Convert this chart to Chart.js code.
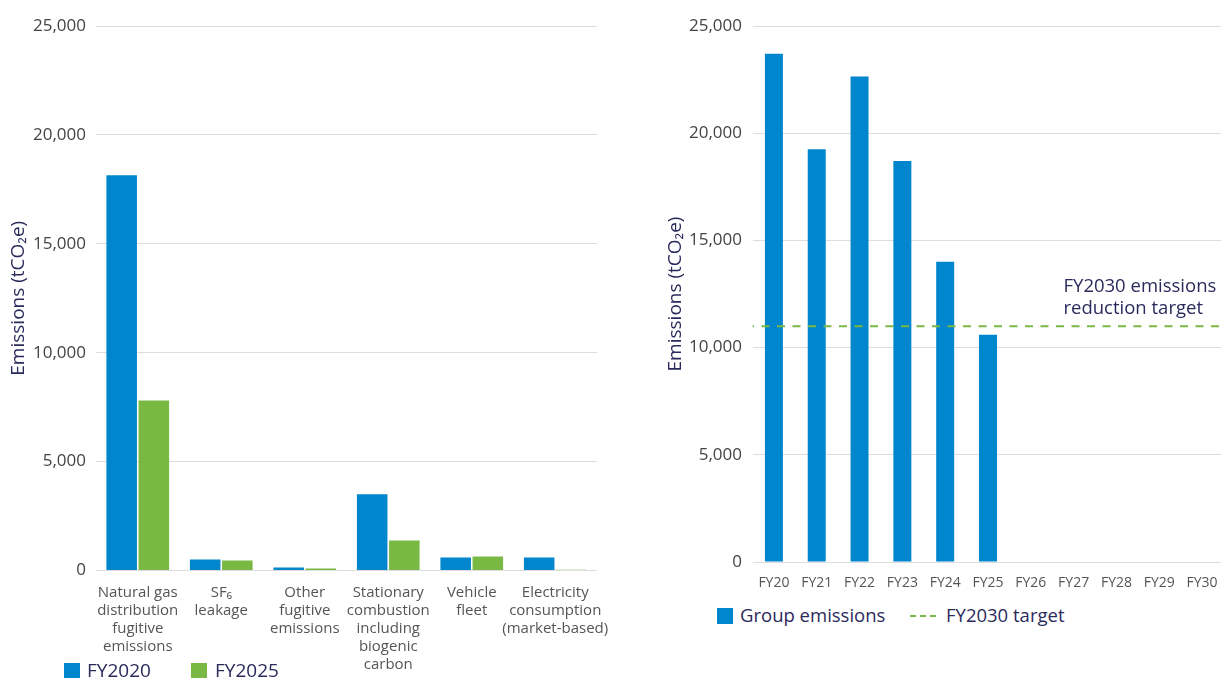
<!DOCTYPE html>
<html>
<head>
<meta charset="utf-8">
<script src="https://cdn.jsdelivr.net/npm/chart.js@4.4.1/dist/chart.umd.min.js"></script>
<style>
  html, body { margin: 0; padding: 0; background: #fff; }
  body { width: 1221px; height: 678px; overflow: hidden; position: relative; font-family: 'Open Sans', sans-serif; }
  .wrap { position: absolute; top: 0; }
  #left { left: 0; width: 625px; height: 700px; }
  #right { left: 660px; width: 580px; height: 600px; }
  .legend { position: absolute; color: #2b2a5c; white-space: nowrap; }
  .legend span { position: absolute; }
  .box { width: 16px; height: 16px; }
  .dash { width: 26px; height: 0; border-top: 2px dashed #7ab648; }
</style>
</head>
<body>
<div class="wrap" id="left"><canvas id="sourcesChart"></canvas></div>
<div class="wrap" id="right"><canvas id="trendChart"></canvas></div>

<!-- legendes -->
<div class="legend" style="left:0;top:0;font-size:19px;">
  <span class="box" style="left:64px;top:663px;background:#0086cc;"></span>
  <span style="left:87px;top:657px;">FY2020</span>
  <span class="box" style="left:191px;top:663px;background:#7ab844;"></span>
  <span style="left:215px;top:657px;">FY2025</span>
</div>
<div class="legend" style="left:0;top:0;font-size:18.5px;">
  <span class="box" style="left:717px;top:608px;background:#0086cc;"></span>
  <span style="left:740px;top:602px;">Group emissions</span>
  <span class="dash" style="left:910px;top:615px;"></span>
  <span style="left:946px;top:602px;">FY2030 target</span>
</div>

<script>
// Graphique de gauche : sources d'emissions
const sourceLabels = [
  ['Natural gas', 'distribution', 'fugitive', 'emissions'],
  ['SF₆', 'leakage'],
  ['Other', 'fugitive', 'emissions'],
  ['Stationary', 'combustion', 'including', 'biogenic', 'carbon'],
  ['Vehicle', 'fleet'],
  ['Electricity', 'consumption', '(market-based)']
];
const fy2020 = [18150, 500, 140, 3500, 600, 600];
const fy2025 = [7800, 460, 90, 1380, 640, 40];

// Graphique de droite : emissions du groupe par annee
const years = ['FY20', 'FY21', 'FY22', 'FY23', 'FY24', 'FY25', 'FY26', 'FY27', 'FY28', 'FY29', 'FY30'];
const groupEmissions = [23700, 19250, 22650, 18700, 14000, 10600, null, null, null, null, null];
const targetValue = 11000;
const targetNote = ['FY2030 emissions', 'reduction target'];

const yTicks = [0, 5000, 10000, 15000, 20000, 25000];

const BLUE = '#0086cc';
const GREEN = '#7ab844';
const NAVY = '#2b2a5c';
const GRID = '#dddddd';
const FONT = "'Open Sans', sans-serif";

Chart.defaults.font.family = FONT;
Chart.defaults.animation = false;

function yAxis(width, titleOffset, tickPad) {
  return {
    min: 0,
    max: 25000,
    afterBuildTicks: axis => { axis.ticks = yTicks.map(v => ({ value: v })); },
    afterFit: axis => { axis.width = width; },
    border: { display: false },
    grid: { color: GRID, lineWidth: 1, drawTicks: false },
    ticks: {
      padding: tickPad,
      color: '#444',
      font: { size: 17 },
      callback: v => v.toLocaleString('en-US')
    },
    title: {
      display: true,
      text: 'Emissions (tCO₂e)',
      color: NAVY,
      font: { size: 19 },
      padding: { top: titleOffset, bottom: 0 }
    }
  };
}

// Texte de l'objectif, place au-dessus de la ligne pointillee
const targetNotePlugin = {
  id: 'targetNote',
  afterDatasetsDraw(chart) {
    const y = chart.scales.y.getPixelForValue(targetValue);
    const ctx = chart.ctx;
    ctx.save();
    ctx.font = '18.5px ' + FONT;
    ctx.fillStyle = NAVY;
    ctx.textBaseline = 'middle';
    ctx.textAlign = 'left';
    ctx.fillText(targetNote[0], chart.chartArea.right - 160, y - 39);
    ctx.fillText(targetNote[1], chart.chartArea.right - 160, y - 17);
    ctx.restore();
  }
};

new Chart(document.getElementById('sourcesChart'), {
  type: 'bar',
  data: {
    labels: sourceLabels,
    datasets: [
      { label: 'FY2020', data: fy2020, backgroundColor: BLUE },
      { label: 'FY2025', data: fy2025, backgroundColor: GREEN }
    ]
  },
  options: {
    responsive: true,
    maintainAspectRatio: false,
    layout: { padding: { top: 26, right: 28, left: 0, bottom: 0 } },
    categoryPercentage: 0.77,
    barPercentage: 0.95,
    plugins: { legend: { display: false }, tooltip: { enabled: false } },
    scales: {
      x: {
        afterFit: axis => { axis.height = 700 - 26 - 544.5; },
        border: { display: false },
        grid: { display: false },
        ticks: {
          padding: 5,
          color: '#555',
          maxRotation: 0,
          autoSkip: false,
          font: { size: 15, lineHeight: 1.2 }
        }
      },
      y: yAxis(96, 7, 10)
    }
  }
});

new Chart(document.getElementById('trendChart'), {
  type: 'bar',
  data: {
    labels: years,
    datasets: [
      { label: 'Group emissions', data: groupEmissions, backgroundColor: BLUE, grouped: false, barPercentage: 0.42, categoryPercentage: 1, order: 1 },
      {
        type: 'line',
        label: 'FY2030 target',
        xAxisID: 'x2',
        order: 0,
        data: [{ x: 0, y: targetValue }, { x: 1, y: targetValue }],
        borderColor: GREEN,
        borderWidth: 2,
        borderDash: [8, 7.5],
        borderDashOffset: 6.5,
        pointRadius: 0,
        fill: false
      }
    ]
  },
  options: {
    responsive: true,
    maintainAspectRatio: false,
    layout: { padding: { top: 26, right: 16.5, left: 0, bottom: 0 } },
    plugins: { legend: { display: false }, tooltip: { enabled: false } },
    scales: {
      x: {
        afterFit: axis => { axis.height = 600 - 562; },
        border: { display: false },
        grid: { display: false },
        ticks: {
          padding: 5,
          color: '#555',
          maxRotation: 0,
          autoSkip: false,
          font: { size: 14 }
        }
      },
      x2: { type: 'linear', min: 0, max: 1, offset: false, display: false },
      y: yAxis(92.5, 4, 10.5)
    }
  },
  plugins: [targetNotePlugin]
});
</script>
</body>
</html>
